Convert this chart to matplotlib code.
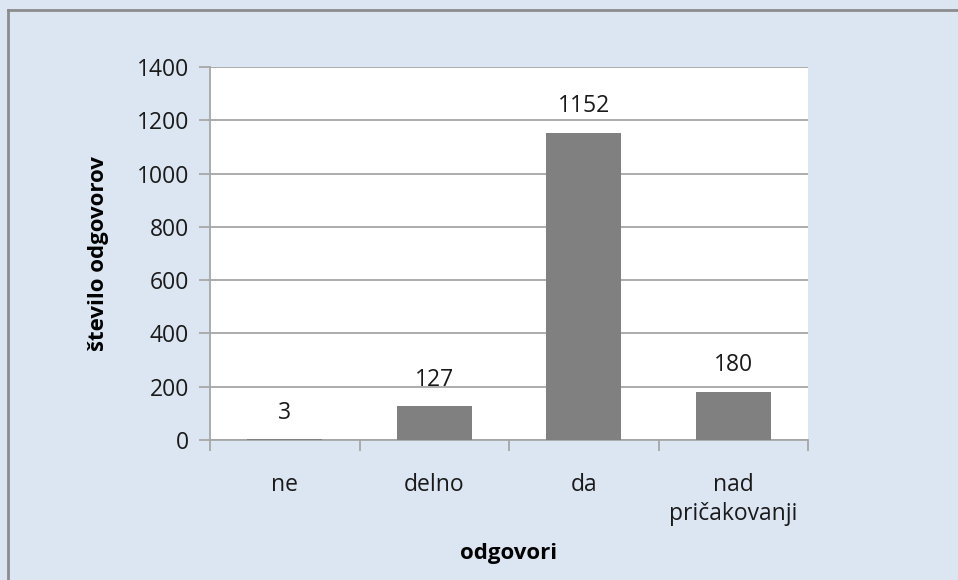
import matplotlib.pyplot as plt
from matplotlib.lines import Line2D

plt.rcParams['font.family'] = ['Open Sans', 'DejaVu Sans']

kategorije = ['ne', 'delno', 'da', 'nad\npričakovanji']
odgovori = [3, 127, 1152, 180]
yticks = [0, 200, 400, 600, 800, 1000, 1200, 1400]

bg = '#dce6f2'
siva = '#a6a6a6'

fig = plt.figure(figsize=(9.58, 5.8), dpi=100)
fig.patch.set_facecolor(bg)

# okvir grafa (levo in zgoraj)
fig.add_artist(Line2D([8/958, 8/958], [0, 1 - 9.5/580], transform=fig.transFigure, color='#8c8c8c', lw=2))
fig.add_artist(Line2D([8/958, 1], [1 - 9.5/580, 1 - 9.5/580], transform=fig.transFigure, color='#8c8c8c', lw=2))

ax = fig.add_axes([210/958, 140/580, 598/958, 373/580])
ax.set_facecolor('white')

x = list(range(len(kategorije)))
ax.bar(x, odgovori, width=0.5, color='#808080', zorder=3)
for xi, v in zip(x, odgovori):
    ax.text(xi, v + 55, str(v), ha='center', va='bottom', fontsize=16.5, color='#1a1a1a')

ax.set_xlim(-0.5, len(kategorije) - 0.5)
ax.set_ylim(0, 1400)
ax.set_yticks(yticks)
ax.yaxis.grid(True, color=siva, lw=1.3, zorder=0)
ax.set_axisbelow(True)

ax.set_xticks([i - 0.5 for i in range(len(kategorije) + 1)])
ax.set_xticklabels([])
ax.set_xticks(x, minor=True)
ax.set_xticklabels(kategorije, minor=True, fontsize=16.5, color='#1a1a1a', linespacing=1.25)
ax.tick_params(axis='x', which='major', length=8, width=1.3, color=siva, direction='out')
ax.tick_params(axis='x', which='minor', length=0, pad=24)
ax.tick_params(axis='y', length=8, width=1.3, color=siva, labelsize=16.5, labelcolor='#1a1a1a', pad=7)

for s in ['top', 'right']:
    ax.spines[s].set_visible(False)
for s in ['left', 'bottom']:
    ax.spines[s].set_color(siva)
    ax.spines[s].set_linewidth(1.3)

ax.set_ylabel('število odgovorov', fontsize=16, fontweight='bold', labelpad=20)
ax.set_xlabel('odgovori', fontsize=16, fontweight='bold', labelpad=12)

fig.savefig('out.png', dpi=100, facecolor=bg)
